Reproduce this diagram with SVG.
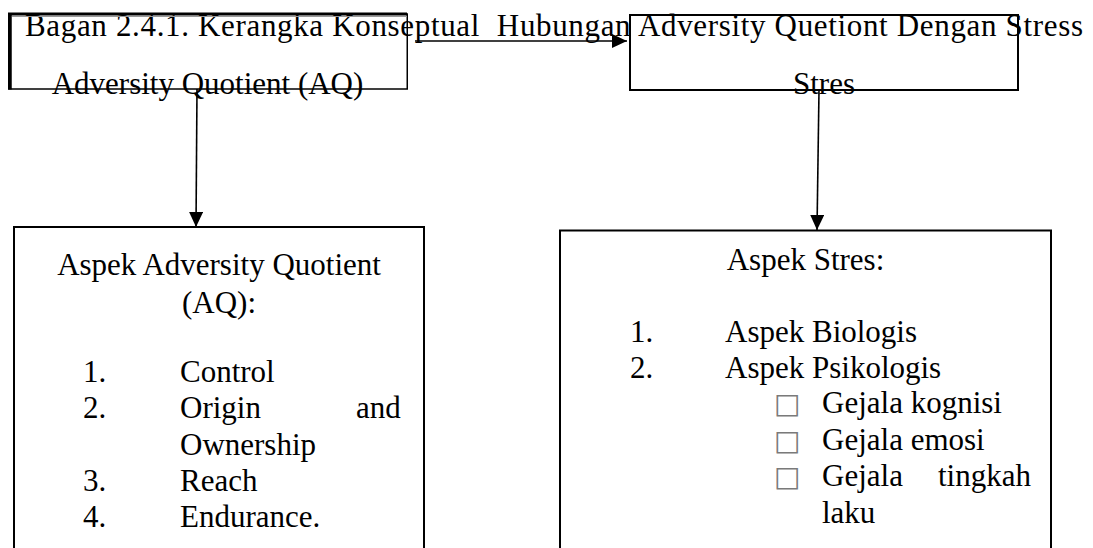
<svg xmlns="http://www.w3.org/2000/svg" width="1093" height="548" viewBox="0 0 1093 548">
<defs>
<style>
.t{font-family:"Liberation Serif","Times New Roman",serif;font-size:31px;fill:#000}
.c{text-anchor:middle}
.box{fill:none;stroke:#000;stroke-width:2}
.thin{fill:none;stroke:#000;stroke-width:1.5}
.con{fill:none;stroke:#000;stroke-width:1.6}
.bul{font-family:"DejaVu Sans",sans-serif;font-size:28px;fill:#7a7a7a}
</style>
<marker id="arr" markerWidth="15" markerHeight="14" refX="15" refY="7" orient="auto" markerUnits="userSpaceOnUse">
<path d="M0,0 L15,7 L0,14 Z" fill="#000"/>
</marker>
</defs>
<rect width="1093" height="548" fill="#fff"/>

<g id="title">
<text class="t" x="25" y="36" textLength="1058" lengthAdjust="spacing" style="white-space:pre">Bagan 2.4.1. Kerangka Konseptual  Hubungan Adversity Quetiont Dengan Stress</text>
</g>

<g id="node-aq">
<rect class="thin" x="8.75" y="14" width="398.5" height="75"/>
<line x1="10" y1="13" x2="10" y2="89.5" stroke="#000" stroke-width="3.5"/>
<line x1="8" y1="14" x2="407" y2="14" stroke="#000" stroke-width="3"/>
<line x1="12" y1="16.5" x2="407" y2="16.5" stroke="#999" stroke-width="1"/>
<text class="t c" x="207.5" y="94">Adversity Quotient (AQ)</text>
</g>

<g id="node-stres">
<rect class="box" x="630" y="15" width="388" height="75"/>
<text class="t c" x="824" y="94">Stres</text>
</g>

<g id="node-aspek-aq">
<rect class="box" x="14" y="227" width="410" height="340"/>
<text class="t c" x="219" y="275">Aspek Adversity Quotient</text>
<text class="t c" x="219" y="313">(AQ):</text>
<text class="t" x="83" y="382">1.</text><text class="t" x="180" y="382">Control</text>
<text class="t" x="83" y="418">2.</text><text class="t" x="180" y="418">Origin</text><text class="t" x="356" y="418">and</text>
<text class="t" x="180" y="454.5">Ownership</text>
<text class="t" x="83" y="490.5">3.</text><text class="t" x="180" y="490.5">Reach</text>
<text class="t" x="83" y="526.5">4.</text><text class="t" x="180" y="526.5">Endurance.</text>
</g>

<g id="node-aspek-stres">
<rect class="box" x="560" y="230.5" width="491" height="340"/>
<text class="t c" x="805.5" y="270">Aspek Stres:</text>
<text class="t" x="630" y="341.5">1.</text><text class="t" x="725" y="341.5">Aspek Biologis</text>
<text class="t" x="630" y="377.5">2.</text><text class="t" x="725" y="377.5">Aspek Psikologis</text>
<text class="bul" x="774" y="413">□</text><text class="t" x="822" y="413">Gejala kognisi</text>
<text class="bul" x="774" y="449.5">□</text><text class="t" x="822" y="449.5">Gejala emosi</text>
<text class="bul" x="774" y="486">□</text><text class="t" x="822" y="486">Gejala</text><text class="t" x="938" y="486">tingkah</text>
<text class="t" x="822" y="522.5">laku</text>
</g>

<g id="connectors">
<line class="con" x1="415" y1="41" x2="627" y2="41" marker-end="url(#arr)"/>
<line class="con" x1="197" y1="89" x2="196" y2="227" marker-end="url(#arr)"/>
<line class="con" x1="819" y1="90" x2="817" y2="230" marker-end="url(#arr)"/>
</g>
</svg>
